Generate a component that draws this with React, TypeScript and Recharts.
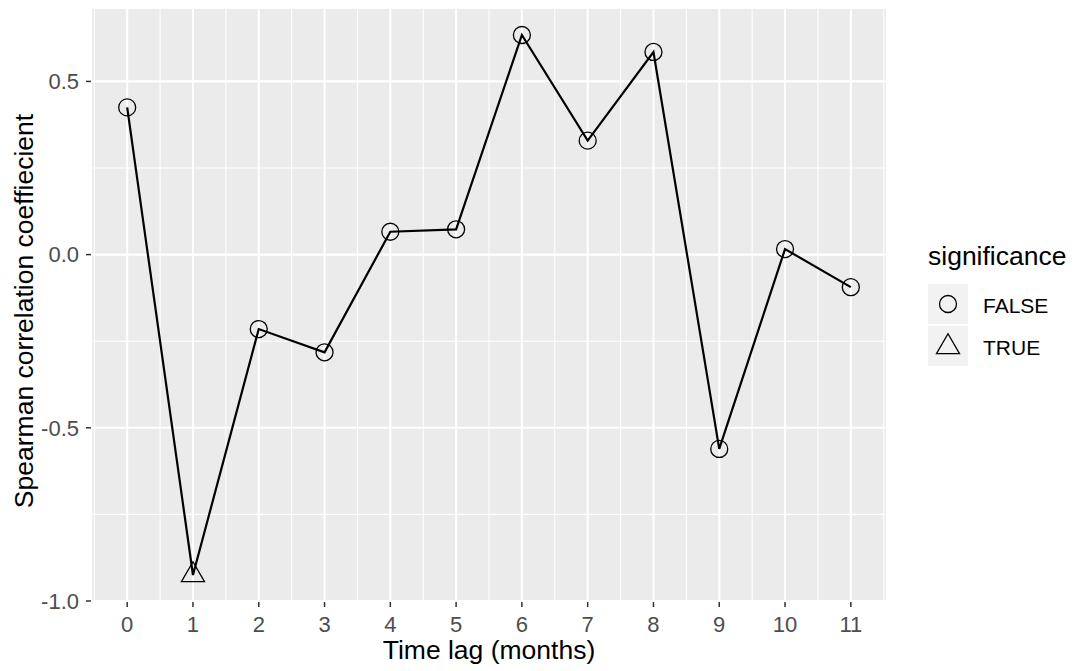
import React from 'react';
import {
  CartesianGrid,
  ComposedChart,
  Line,
  ReferenceLine,
  XAxis,
  YAxis,
} from 'recharts';

// Time lag (months) and the Spearman coefficient at each lag
const lags = [0, 1, 2, 3, 4, 5, 6, 7, 8, 9, 10, 11];
const rho = [0.425, -0.925, -0.215, -0.282, 0.066, 0.073, 0.634, 0.329, 0.585, -0.561, 0.016, -0.094];
const significant = [false, true, false, false, false, false, false, false, false, false, false, false];

// Axis breaks
const xTicks = [0, 1, 2, 3, 4, 5, 6, 7, 8, 9, 10, 11];
const yTicks = [-1, -0.5, 0, 0.5];
const xMinor = [-0.5, 0.5, 1.5, 2.5, 3.5, 4.5, 5.5, 6.5, 7.5, 8.5, 9.5, 10.5, 11.5];
const yMinor = [-0.75, -0.25, 0.25];

const legendTitle = 'significance';
const legendLabels = ['FALSE', 'TRUE'];

const FONT = '"Liberation Sans", Arial, Helvetica, sans-serif';
const PANEL_BG = '#EBEBEB';
const MARK_STROKE = 1.3;

const chartData = lags.map((lag, i) => ({
  lag,
  rho: rho[i],
  significant: significant[i],
}));

// ggplot-style 5% expansion around the data range
const yMin = Math.min(...rho);
const yMax = Math.max(...rho);
const yPad = (yMax - yMin) * 0.05;
const xPad = (lags[lags.length - 1] - lags[0]) * 0.05;

const Triangle = ({ cx, cy }: { cx: number; cy: number }) => {
  const r = 13.3;
  const h = (r * Math.sqrt(3)) / 2;
  return (
    <polygon
      points={`${cx},${cy - r} ${cx + h},${cy + r / 2} ${cx - h},${cy + r / 2}`}
      fill="none"
      stroke="#000"
      strokeWidth={MARK_STROKE}
    />
  );
};

const Ring = ({ cx, cy }: { cx: number; cy: number }) => (
  <circle cx={cx} cy={cy} r={8.5} fill="none" stroke="#000" strokeWidth={MARK_STROKE} />
);

const PointMarker = (props: any) => {
  const { cx, cy, payload, index } = props;
  if (cx == null || cy == null) return <g key={index} />;
  return (
    <g key={index}>
      {payload.significant ? <Triangle cx={cx} cy={cy} /> : <Ring cx={cx} cy={cy} />}
    </g>
  );
};

// Rotated y title, drawn a little below the panel centre
const YTitle = (props: any) => {
  const vb = props.viewBox || {};
  const cx = 24;
  const cy = (vb.y ?? 8) + (vb.height ?? 594) / 2 + 6;
  return (
    <text
      x={cx}
      y={cy}
      transform={`rotate(-90, ${cx}, ${cy})`}
      textAnchor="middle"
      dominantBaseline="central"
      fontFamily={FONT}
      fontSize={26.5}
      fill="#000"
    >
      Spearman correlation coeffiecient
    </text>
  );
};

const SignificanceLegend = () => (
  <svg
    width={1076}
    height={671}
    style={{ position: 'absolute', left: 0, top: 0, pointerEvents: 'none' }}
  >
    <text x={928} y={265} fontFamily={FONT} fontSize={26.5} fill="#000">
      {legendTitle}
    </text>
    {legendLabels.map((label, i) => {
      const top = 284 + i * 42;
      const cx = 948;
      const cy = top + 20;
      return (
        <g key={label}>
          <rect x={928} y={top} width={40} height={40} fill="#F2F2F2" />
          {i === 0 ? <Ring cx={cx} cy={cy} /> : <Triangle cx={cx} cy={cy + 1} />}
          <text x={983} y={top + 28.5} fontFamily={FONT} fontSize={21} fill="#000">
            {label}
          </text>
        </g>
      );
    })}
  </svg>
);

const App: React.FC = () => {
  return (
    <div
      style={{
        position: 'absolute',
        left: 0,
        top: 0,
        width: 1076,
        height: 671,
        background: '#fff',
        fontFamily: FONT,
      }}
    >
      <ComposedChart
        width={1076}
        height={671}
        data={chartData}
        margin={{ top: 8, right: 189, bottom: 0, left: 0 }}
      >
        <CartesianGrid fill={PANEL_BG} fillOpacity={1} stroke="#FFFFFF" strokeWidth={2.1} />
        {/* minor grid */}
        {xMinor.map((v) => (
          <ReferenceLine key={`mx${v}`} x={v} stroke="#FFFFFF" strokeWidth={1.05} />
        ))}
        {yMinor.map((v) => (
          <ReferenceLine key={`my${v}`} y={v} stroke="#FFFFFF" strokeWidth={1.05} />
        ))}
        <XAxis
          dataKey="lag"
          type="number"
          domain={[lags[0] - xPad, lags[lags.length - 1] + xPad]}
          ticks={xTicks}
          interval={0}
          height={69}
          axisLine={false}
          tickSize={5}
          tickMargin={9}
          tickLine={{ stroke: '#333333', strokeWidth: 1.5 }}
          tick={{ fill: '#4D4D4D', fontSize: 22, fontFamily: FONT }}
          label={{
            value: 'Time lag (months)',
            position: 'insideBottom',
            offset: 12,
            fill: '#000',
            fontSize: 26.5,
            fontFamily: FONT,
          }}
        />
        <YAxis
          type="number"
          domain={[yMin - yPad, yMax + yPad]}
          ticks={yTicks}
          width={91}
          axisLine={false}
          tickSize={5}
          tickMargin={7}
          tickLine={{ stroke: '#333333', strokeWidth: 1.5 }}
          tick={{ fill: '#4D4D4D', fontSize: 22, fontFamily: FONT }}
          tickFormatter={(v: number) => v.toFixed(1)}
          label={YTitle}
        />
        <Line
          type="linear"
          dataKey="rho"
          stroke="#000"
          strokeWidth={2.2}
          dot={PointMarker}
          activeDot={false}
          isAnimationActive={false}
        />
      </ComposedChart>
      <SignificanceLegend />
    </div>
  );
};

export default App;
